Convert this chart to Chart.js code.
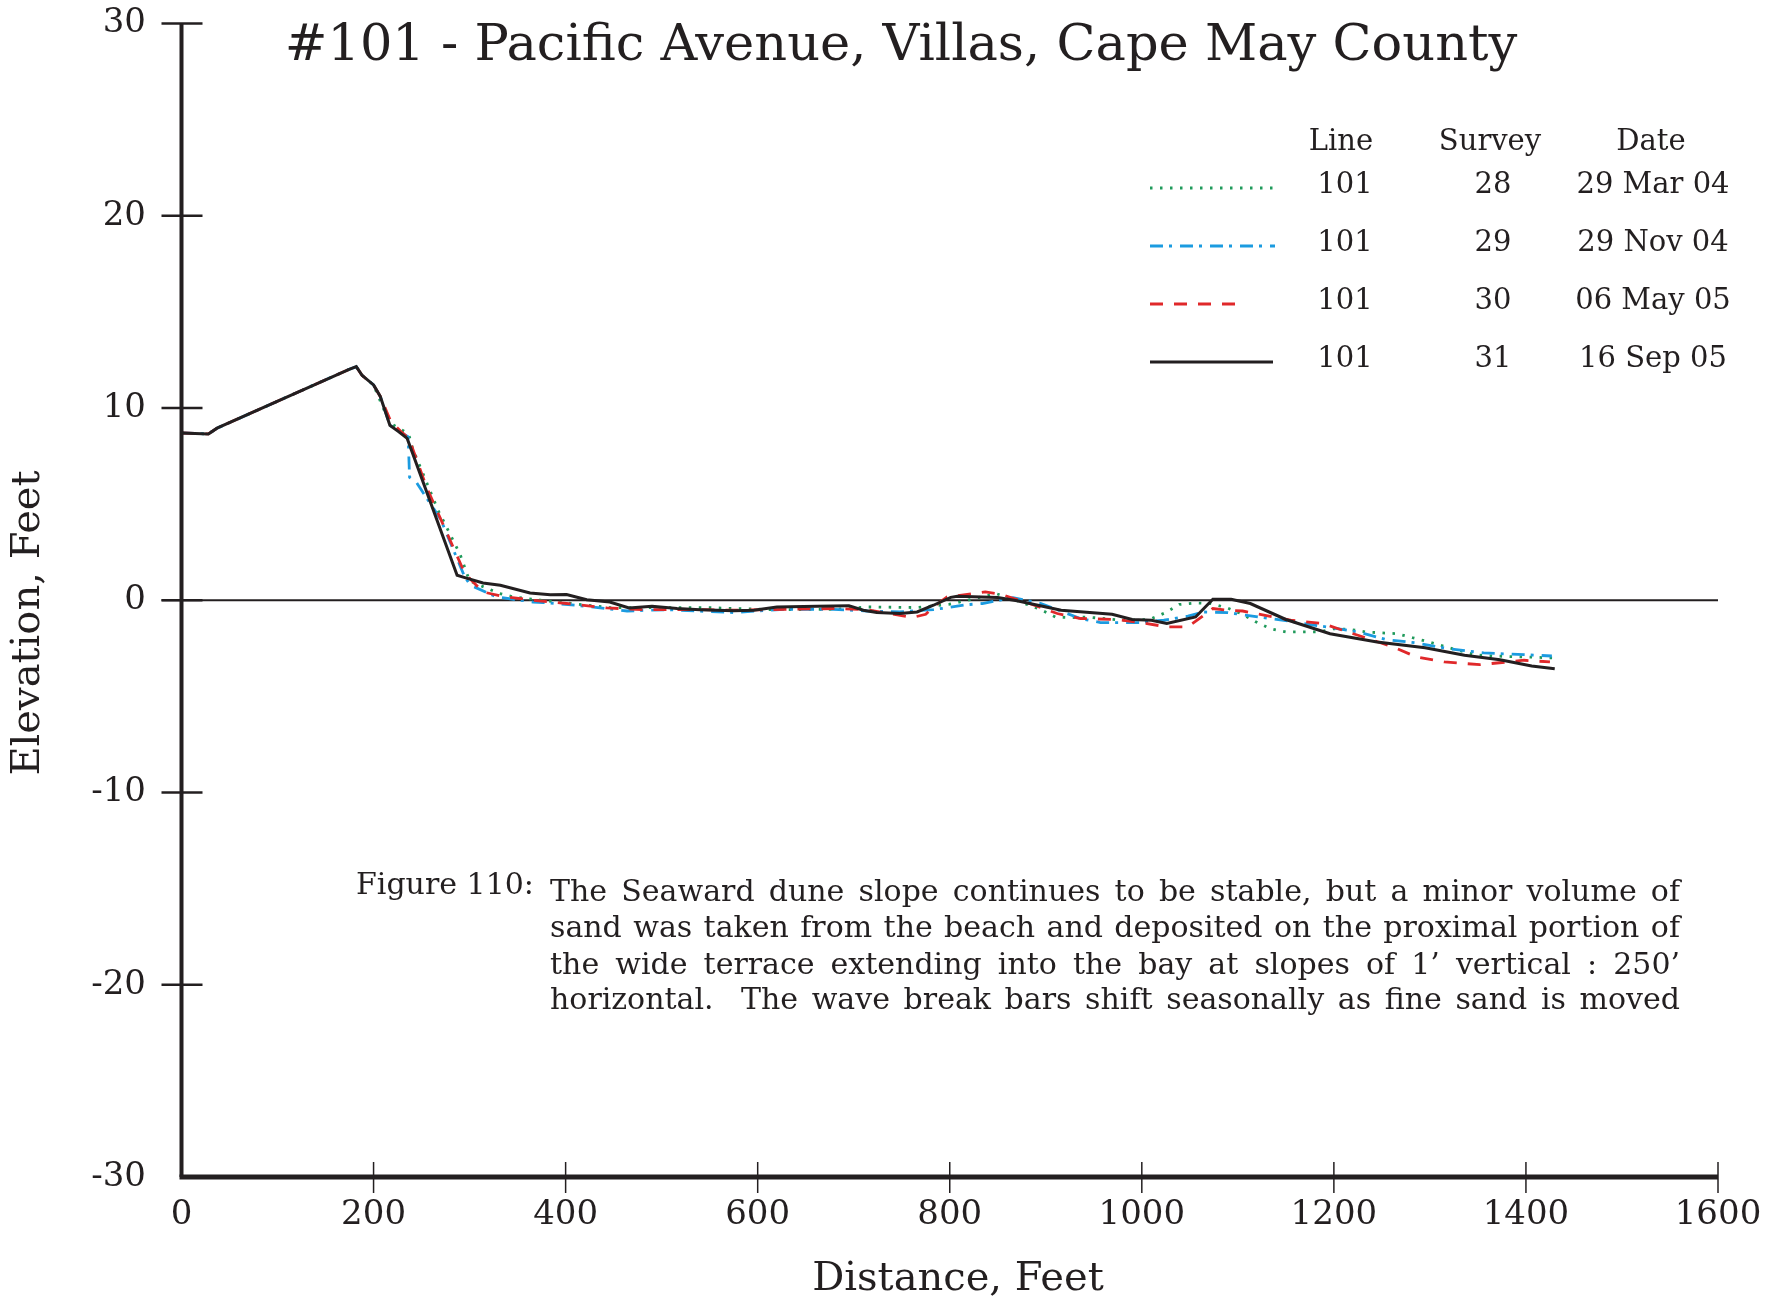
<!DOCTYPE html>
<html lang="en">
<head>
<meta charset="UTF-8">
<script src="https://cdn.jsdelivr.net/npm/chart.js@4.4.3/dist/chart.umd.min.js"></script>
<style>
    html, body { margin: 0; padding: 0; background: #ffffff; }
    canvas { display: block; }
</style>
</head>
<body>
<canvas id="profile" width="1786" height="1301"></canvas>
<script>
    // survey 28 - 29 Mar 04 (dotted green)
    let dist28 = [0, 28, 37, 174, 182, 188, 200, 210, 218, 228, 236.5, 240.6, 267, 290, 300, 331, 346, 380, 446, 545, 615, 682, 715, 766, 799, 816, 848, 864, 895, 910, 926, 943, 978, 1008, 1025, 1039, 1056, 1072, 1089, 1105, 1118, 1134, 1150, 1184, 1200, 1216, 1233, 1266, 1282, 1299, 1315, 1332, 1348, 1365, 1398, 1429];
    let elev28 = [8.7, 8.65, 8.95, 12.0, 12.15, 11.7, 11.2, 10.0, 9.2, 8.9, 8.65, 7.9, 4.7, 2.4, 1.0, 0.35, 0.17, -0.03, -0.38, -0.38, -0.49, -0.47, -0.35, -0.38, -0.21, -0.03, 0.35, 0.09, -0.49, -0.87, -0.9, -0.87, -1.04, -1.0, -0.64, -0.22, -0.14, -0.17, -0.4, -0.73, -1.1, -1.48, -1.65, -1.65, -1.48, -1.51, -1.65, -1.74, -1.95, -2.17, -2.4, -2.64, -2.85, -2.9, -2.95, -3.0];

    // survey 29 - 29 Nov 04 (dash-dot blue)
    let dist29 = [0, 28, 37, 174, 182, 188, 200, 207, 217, 226, 236, 237.5, 245, 270, 295, 301, 328, 366, 377, 411, 464, 505, 575, 627, 679, 714, 748, 783, 818, 834, 866, 895, 936, 957, 998, 1023, 1048, 1064, 1089, 1122, 1155, 1192, 1225, 1255, 1286, 1319, 1356, 1398, 1427];
    let elev29 = [8.7, 8.65, 8.95, 12.0, 12.15, 11.7, 11.2, 10.6, 9.1, 8.8, 8.5, 6.4, 6.1, 4.2, 1.2, 0.78, 0.17, -0.09, -0.12, -0.26, -0.56, -0.49, -0.64, -0.47, -0.47, -0.56, -0.6, -0.49, -0.23, -0.17, 0.14, -0.17, -0.95, -1.16, -1.16, -1.04, -0.83, -0.61, -0.64, -0.87, -1.1, -1.39, -1.65, -2.05, -2.22, -2.52, -2.74, -2.83, -2.9];

    // survey 30 - 06 May 05 (dashed red)
    let dist30 = [0, 28, 37, 174, 182, 188, 200, 207, 218, 228, 237, 255, 295, 314, 335, 366, 401, 443, 481, 540, 575, 679, 714, 761, 775, 783, 797, 837, 854, 883, 912, 936, 974, 994, 1027, 1048, 1074, 1089, 1105, 1155, 1188, 1262, 1286, 1315, 1352, 1381, 1398, 1425];
    let elev30 = [8.7, 8.65, 8.95, 12.0, 12.15, 11.7, 11.2, 10.6, 9.3, 8.8, 8.4, 5.9, 1.4, 0.43, 0.2, 0.0, -0.17, -0.4, -0.49, -0.49, -0.52, -0.43, -0.49, -0.9, -0.73, -0.35, 0.17, 0.43, 0.3, -0.17, -0.69, -0.95, -1.0, -1.13, -1.39, -1.39, -0.43, -0.52, -0.56, -1.04, -1.21, -2.43, -2.95, -3.21, -3.35, -3.21, -3.12, -3.21];

    // survey 31 - 16 Sep 05 (solid black)
    let dist31 = [0, 28, 37, 174, 182, 188, 200, 207, 217, 226, 235, 287, 295, 314, 332, 363, 384, 401, 422, 446, 466, 490, 516, 540, 575, 596, 620, 662, 695, 710, 724, 748, 766, 783, 801, 808, 850, 870, 916, 969, 990, 1010, 1026, 1056, 1074, 1093, 1113, 1150, 1196, 1245, 1295, 1336, 1373, 1406, 1430];
    let elev31 = [8.7, 8.65, 8.95, 12.0, 12.15, 11.7, 11.2, 10.6, 9.1, 8.77, 8.42, 1.3, 1.18, 0.9, 0.78, 0.38, 0.28, 0.3, 0.03, -0.09, -0.4, -0.31, -0.43, -0.49, -0.54, -0.52, -0.35, -0.31, -0.28, -0.52, -0.64, -0.69, -0.61, -0.26, 0.15, 0.21, 0.14, -0.03, -0.52, -0.73, -1.0, -1.04, -1.21, -0.87, 0.05, 0.05, -0.17, -1.0, -1.74, -2.17, -2.47, -2.86, -3.09, -3.42, -3.56];

    let legendLines = ["101", "101", "101", "101"];
    let legendSurveys = ["28", "29", "30", "31"];
    let legendDates = ["29 Mar 04", "29 Nov 04", "06 May 05", "16 Sep 05"];

    let chartTitle = "#101 - Pacific Avenue, Villas, Cape May County";
    let xTitle = "Distance, Feet";
    let yTitle = "Elevation, Feet";
    let captionLabel = "Figure 110:";
    let captionLines = [
        "The Seaward dune slope continues to be stable, but a minor volume of",
        "sand was taken from the beach and deposited on the proximal portion of",
        "the wide terrace extending into the bay at slopes of 1\u2019 vertical : 250\u2019",
        "horizontal.  The wave break bars shift seasonally as fine sand is moved"
    ];

    const INK = "#231f20";
    const SERIF = '"DejaVu Serif"';

    function to_points(xs, ys) {
        return xs.map((x, i) => ({ x: x, y: ys[i] }));
    }

    function justify_line(ctx, text, left, right, y) {
        let words = text.split(" ");
        let used = words.reduce((w, word) => w + ctx.measureText(word).width, 0);
        let gap = (right - left - used) / (words.length - 1);
        let x = left;
        for (let word of words) {
            ctx.fillText(word, x, y);
            x += ctx.measureText(word).width + gap;
        }
    }

    // axes, zero line, titles, legend table and caption
    const decorations = {
        id: "decorations",
        beforeDatasetsDraw(chart) {
            let { ctx, chartArea, scales } = chart;
            let y0 = scales.y.getPixelForValue(0);
            ctx.save();
            ctx.strokeStyle = INK;
            ctx.lineWidth = 2;
            ctx.beginPath();
            ctx.moveTo(chartArea.left - 20, y0);
            ctx.lineTo(chartArea.right, y0);
            ctx.stroke();
            ctx.restore();
        },
        afterDraw(chart) {
            let { ctx, chartArea, scales } = chart;
            let xs = scales.x, ys = scales.y;
            ctx.save();
            ctx.strokeStyle = INK;
            ctx.fillStyle = INK;

            // y axis with ticks crossing it
            ctx.lineWidth = 4;
            ctx.beginPath();
            ctx.moveTo(chartArea.left, chartArea.top);
            ctx.lineTo(chartArea.left, chartArea.bottom);
            ctx.stroke();
            ctx.lineWidth = 2.5;
            for (let t of ys.ticks) {
                let py = ys.getPixelForValue(t.value);
                if (t.value === -30) continue;
                ctx.beginPath();
                ctx.moveTo(chartArea.left - 20, py);
                ctx.lineTo(chartArea.left + 21, py);
                ctx.stroke();
            }

            // x axis
            ctx.lineWidth = 5;
            ctx.beginPath();
            ctx.moveTo(chartArea.left - 2, chartArea.bottom);
            ctx.lineTo(chartArea.right, chartArea.bottom);
            ctx.stroke();
            ctx.lineWidth = 1.5;
            for (let t of xs.ticks) {
                if (t.value === 0) continue;
                let px = xs.getPixelForValue(t.value);
                ctx.beginPath();
                ctx.moveTo(px, chartArea.bottom - 15);
                ctx.lineTo(px, chartArea.bottom + 16);
                ctx.stroke();
            }

            // chart title
            ctx.font = "51px " + SERIF;
            ctx.textAlign = "center";
            ctx.textBaseline = "alphabetic";
            ctx.fillText(chartTitle, 901, 60);

            // axis titles
            ctx.font = "40px " + SERIF;
            ctx.textBaseline = "middle";
            ctx.fillText(xTitle, 958, 1280);
            ctx.save();
            ctx.translate(29, 623);
            ctx.rotate(-Math.PI / 2);
            ctx.fillText(yTitle, 0, 0);
            ctx.restore();

            // legend table
            ctx.font = "29px " + SERIF;
            ctx.fillText("Line", 1341, 142);
            ctx.fillText("Survey", 1490, 142);
            ctx.fillText("Date", 1651, 142);
            let rowY = [185, 243, 301, 359];
            let sampleEnd = [1273, 1275, 1236, 1273];
            chart.data.datasets.forEach((ds, i) => {
                ctx.fillText(legendLines[i], 1345, rowY[i]);
                ctx.fillText(legendSurveys[i], 1493, rowY[i]);
                ctx.fillText(legendDates[i], 1653, rowY[i]);
                ctx.save();
                ctx.strokeStyle = ds.borderColor;
                ctx.lineWidth = ds.borderWidth;
                ctx.setLineDash(ds.borderDash || []);
                ctx.beginPath();
                ctx.moveTo(1150, rowY[i] + 3);
                ctx.lineTo(sampleEnd[i], rowY[i] + 3);
                ctx.stroke();
                ctx.restore();
            });

            // caption
            ctx.font = "30px " + SERIF;
            ctx.textAlign = "left";
            ctx.fillText(captionLabel, 356, 886);
            let lineY = [893, 929, 966, 1001];
            captionLines.forEach((line, i) => justify_line(ctx, line, 550, 1680, lineY[i]));
            ctx.restore();
        }
    };

    let ctx = document.getElementById("profile");
    let chartjs = new Chart(ctx, {
        type: "line",
        data: {
            datasets: [
                {
                    label: "28",
                    data: to_points(dist28, elev28),
                    borderColor: "#1f9a5b",
                    borderWidth: 2.8,
                    borderDash: [2.5, 7.5],
                    order: 3
                },
                {
                    label: "29",
                    data: to_points(dist29, elev29),
                    borderColor: "#1b9be0",
                    borderWidth: 2.8,
                    borderDash: [13, 6, 3, 8],
                    order: 2
                },
                {
                    label: "30",
                    data: to_points(dist30, elev30),
                    borderColor: "#e0282a",
                    borderWidth: 2.8,
                    borderDash: [13, 11],
                    order: 1
                },
                {
                    label: "31",
                    data: to_points(dist31, elev31),
                    borderColor: INK,
                    borderWidth: 3,
                    order: 0
                }
            ]
        },
        options: {
            responsive: false,
            animation: false,
            elements: {
                point: { radius: 0 },
                line: { tension: 0, fill: false }
            },
            layout: {
                padding: { top: 23.5, right: 68, left: 0, bottom: 0 }
            },
            plugins: {
                legend: { display: false },
                tooltip: { enabled: false }
            },
            scales: {
                x: {
                    type: "linear",
                    min: 0,
                    max: 1600,
                    afterFit: s => {
                        s.height = 124;
                        s.paddingLeft = 0;
                        s.paddingRight = 0;
                    },
                    grid: { display: false, drawTicks: false },
                    border: { display: false },
                    ticks: {
                        stepSize: 200,
                        padding: 18,
                        color: INK,
                        maxRotation: 0,
                        callback: value => String(value),
                        font: { family: "DejaVu Serif", size: 34 }
                    }
                },
                y: {
                    min: -30,
                    max: 30,
                    afterFit: s => {
                        s.width = 181.5;
                        s.paddingTop = 0;
                        s.paddingBottom = 0;
                    },
                    grid: { display: false, drawTicks: false },
                    border: { display: false },
                    ticks: {
                        stepSize: 10,
                        padding: 35.5,
                        color: INK,
                        font: { family: "DejaVu Serif", size: 34 }
                    }
                }
            }
        },
        plugins: [decorations]
    });
</script>
</body>
</html>
